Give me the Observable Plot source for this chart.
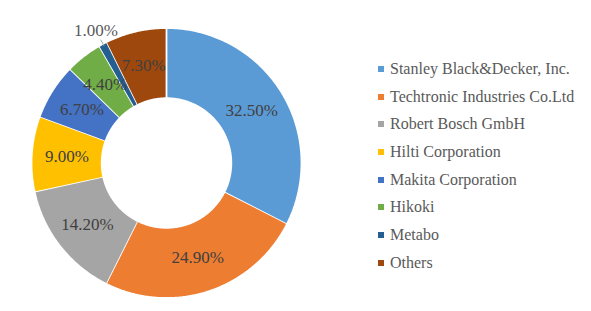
<!DOCTYPE html>
<html>
<head>
<meta charset="utf-8">
<script src="https://cdn.jsdelivr.net/npm/d3@7"></script>
<script src="https://cdn.jsdelivr.net/npm/@observablehq/plot@0.6"></script>
<style>
  body { margin: 0; background: #fff; }
  #wrap { position: relative; width: 591px; height: 311px; overflow: hidden; }
  #legend { position: absolute; left: 378px; top: 55px; font-family: "Times New Roman", "Liberation Serif", "DejaVu Serif", serif; font-size: 16px; color: #595959; }
  .row { height: 27.7px; display: flex; align-items: center; white-space: nowrap; }
  .sw { width: 6px; height: 6px; margin-right: 6px; flex: none; }
  svg text { font-family: "Times New Roman", "Liberation Serif", "DejaVu Serif", serif; }
</style>
</head>
<body>
<div id="wrap"><div id="legend"></div></div>
<script>
const companies = ["Stanley Black&Decker, Inc.", "Techtronic Industries Co.Ltd", "Robert Bosch GmbH", "Hilti Corporation", "Makita Corporation", "Hikoki", "Metabo", "Others"];
const shares = [32.5, 24.9, 14.2, 9.0, 6.7, 4.4, 1.0, 7.3];
const labels = ["32.50%", "24.90%", "14.20%", "9.00%", "6.70%", "4.40%", "1.00%", "7.30%"];
const colors = ["#5B9BD5", "#ED7D31", "#A5A5A5", "#FFC000", "#4472C4", "#70AD47", "#255E91", "#9E480E"];

const W = 591, H = 311;
const R = 135, CX = 166, CY = 162.5; // pixel layout of the donut
const INNER = 0.48;
const SERIF = "'Times New Roman', 'Liberation Serif', 'DejaVu Serif', serif";

const arcs = d3.pie().sort(null).value(d => d.share)(companies.map((name, i) => ({name, share: shares[i], label: labels[i]})));

// polygon vertices for each ring slice
const pts = [];
for (const a of arcs) {
  const n = Math.max(4, Math.ceil((a.endAngle - a.startAngle) / 0.01));
  for (let k = 0; k <= n; k++) {
    const t = a.startAngle + (a.endAngle - a.startAngle) * k / n;
    pts.push({name: a.data.name, x: Math.sin(t), y: Math.cos(t)});
  }
  for (let k = n; k >= 0; k--) {
    const t = a.startAngle + (a.endAngle - a.startAngle) * k / n;
    pts.push({name: a.data.name, x: INNER * Math.sin(t), y: INNER * Math.cos(t)});
  }
}
const inside = arcs.filter(a => a.data.share >= 2).map(a => {
  const m = (a.startAngle + a.endAngle) / 2, r = (1 + INNER) / 2;
  return {label: a.data.label, x: r * Math.sin(m), y: r * Math.cos(m)};
});
const outside = arcs.filter(a => a.data.share < 2).map(a => {
  const m = (a.startAngle + a.endAngle) / 2, r = 1.11;
  return {label: a.data.label, x: r * Math.sin(m), y: r * Math.cos(m),
    x1: 0.985 * Math.sin(m), y1: 0.985 * Math.cos(m), x2: 1.035 * Math.sin(m), y2: 1.035 * Math.cos(m)};
});

const plot = Plot.plot({
  width: W, height: H,
  margin: 0,
  x: {domain: [-CX / R, (W - CX) / R], range: [0, W], axis: null},
  y: {domain: [-(H - CY) / R, CY / R], range: [H, 0], axis: null},
  color: {domain: companies, range: colors},
  style: {background: "transparent", fontFamily: SERIF},
  marks: [
    Plot.line(pts, {x: "x", y: "y", z: "name", fill: "name", stroke: "white", strokeWidth: 1.8, strokeLinejoin: "miter"}),
    Plot.link(outside, {x1: "x1", y1: "y1", x2: "x2", y2: "y2", stroke: "#A6A6A6", strokeWidth: 1}),
    Plot.text(inside, {x: "x", y: "y", text: "label", fill: "#404040", fontSize: 17, fontFamily: SERIF}),
    Plot.text(outside, {x: "x", y: "y", text: "label", fill: "#595959", fontSize: 17, fontFamily: SERIF})
  ]
});
plot.style.position = "absolute";
plot.style.left = "0";
plot.style.top = "0";
document.getElementById("wrap").prepend(plot);

const color = plot.scale("color");
const legend = document.getElementById("legend");
companies.forEach(name => {
  const row = document.createElement("div");
  row.className = "row";
  const sw = document.createElement("span");
  sw.className = "sw";
  sw.style.background = color.apply(name);
  const tx = document.createElement("span");
  tx.textContent = name;
  row.append(sw, tx);
  legend.append(row);
});
</script>
</body>
</html>
